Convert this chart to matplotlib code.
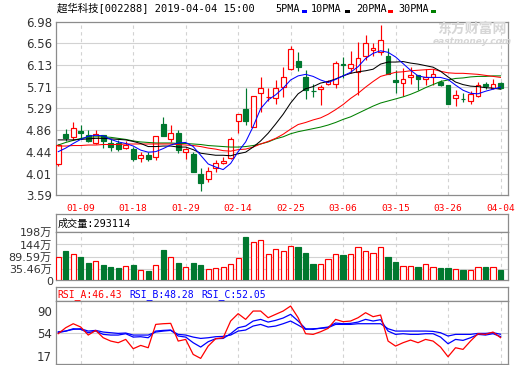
import matplotlib
matplotlib.use('Agg')
import matplotlib.pyplot as plt
from matplotlib.patches import Rectangle

W, H = 520, 365

# ---------------- data ----------------
dates = ['01-04', '01-07', '01-08', '01-09', '01-10', '01-11', '01-14', '01-15', '01-16', '01-17',
         '01-18', '01-21', '01-22', '01-23', '01-24', '01-25', '01-28', '01-29', '01-30', '01-31',
         '02-01', '02-11', '02-12', '02-13', '02-14', '02-15', '02-18', '02-19', '02-20', '02-21',
         '02-22', '02-25', '02-26', '02-27', '02-28', '03-01', '03-04', '03-05', '03-06', '03-07',
         '03-08', '03-11', '03-12', '03-13', '03-14', '03-15', '03-18', '03-19', '03-20', '03-21',
         '03-22', '03-25', '03-26', '03-27', '03-28', '03-29', '04-01', '04-02', '04-03', '04-04']
date_ticks = ['01-09', '01-18', '01-29', '02-14', '02-25', '03-06', '03-15', '03-26', '04-04']

open_ = [4.19, 4.79, 4.72, 4.84, 4.77, 4.60, 4.76, 4.61, 4.60, 4.52,
         4.49, 4.32, 4.37, 4.34, 4.99, 4.68, 4.80, 4.44, 4.39, 4.00,
         3.90, 4.13, 4.21, 4.31, 5.03, 5.27, 4.93, 5.58, 5.50, 5.48,
         5.71, 6.05, 6.21, 5.89, 5.63, 5.66, 5.77, 5.77, 6.15, 6.08,
         6.00, 6.30, 6.43, 6.39, 6.31, 5.84, 5.78, 5.89, 5.94, 5.85,
         5.90, 5.81, 5.74, 5.48, 5.47, 5.43, 5.52, 5.76, 5.68, 5.79]
high = [4.59, 4.88, 5.01, 4.97, 4.86, 4.86, 4.77, 4.68, 4.67, 4.64,
        4.54, 4.44, 4.43, 4.75, 5.11, 4.97, 4.86, 4.52, 4.43, 4.12,
        4.15, 4.28, 4.34, 4.72, 5.17, 5.68, 5.53, 5.89, 5.68, 5.84,
        6.10, 6.51, 6.38, 6.04, 5.77, 5.74, 5.84, 6.21, 6.29, 6.41,
        6.59, 6.72, 6.56, 6.91, 6.46, 6.04, 6.07, 6.10, 5.94, 6.05,
        6.05, 5.84, 5.75, 5.64, 5.59, 5.63, 5.81, 5.81, 5.86, 5.81]
low = [4.16, 4.64, 4.66, 4.68, 4.62, 4.59, 4.51, 4.45, 4.46, 4.49,
       4.25, 4.23, 4.26, 4.27, 4.74, 4.62, 4.41, 4.30, 4.04, 3.68,
       3.85, 4.05, 4.20, 4.30, 4.80, 4.96, 4.92, 5.22, 5.42, 5.38,
       5.51, 6.04, 6.02, 5.46, 5.51, 5.35, 5.75, 5.68, 5.87, 5.97,
       5.55, 6.23, 6.30, 6.33, 5.95, 5.59, 5.52, 5.77, 5.64, 5.74,
       5.74, 5.72, 5.38, 5.34, 5.41, 5.38, 5.50, 5.66, 5.66, 5.67]
close = [4.58, 4.70, 4.90, 4.80, 4.64, 4.78, 4.65, 4.53, 4.50, 4.57,
         4.30, 4.37, 4.30, 4.74, 4.75, 4.80, 4.47, 4.49, 4.05, 3.83,
         4.07, 4.21, 4.25, 4.69, 5.17, 5.03, 5.53, 5.69, 5.51, 5.68,
         5.89, 6.44, 6.09, 5.64, 5.62, 5.71, 5.82, 6.18, 6.13, 6.15,
         6.26, 6.56, 6.46, 6.62, 5.96, 5.80, 5.85, 5.94, 5.86, 5.90,
         5.96, 5.75, 5.38, 5.55, 5.46, 5.57, 5.74, 5.72, 5.77, 5.68]

ma5 = [4.44, 4.51, 4.60, 4.68, 4.74, 4.76, 4.75, 4.68, 4.63, 4.60,
       4.55, 4.47, 4.43, 4.44, 4.50, 4.57, 4.61, 4.62, 4.54, 4.37,
       4.20, 4.14, 4.09, 4.21, 4.44, 4.63, 4.93, 5.28, 5.45, 5.55,
       5.68, 5.84, 5.92, 5.95, 5.91, 5.84, 5.79, 5.85, 5.92, 5.99,
       6.10, 6.26, 6.36, 6.41, 6.38, 6.29, 6.16, 6.03, 5.92, 5.89,
       5.89, 5.89, 5.85, 5.74, 5.64, 5.58, 5.57, 5.62, 5.66, 5.70]
ma10 = [4.67, 4.67, 4.67, 4.68, 4.69, 4.70, 4.70, 4.69, 4.68, 4.67,
        4.64, 4.60, 4.54, 4.54, 4.55, 4.55, 4.53, 4.53, 4.48, 4.41,
        4.39, 4.37, 4.37, 4.36, 4.40, 4.43, 4.53, 4.65, 4.80, 4.98,
        5.17, 5.39, 5.57, 5.67, 5.71, 5.78, 5.81, 5.86, 5.92, 5.97,
        6.00, 6.02, 6.05, 6.15, 6.19, 6.19, 6.20, 6.17, 6.15, 6.12,
        6.09, 6.01, 5.90, 5.80, 5.75, 5.72, 5.71, 5.69, 5.68, 5.66]
ma20 = [4.55, 4.55, 4.56, 4.56, 4.57, 4.57, 4.58, 4.58, 4.58, 4.59,
        4.59, 4.59, 4.59, 4.59, 4.59, 4.59, 4.58, 4.57, 4.56, 4.54,
        4.51, 4.49, 4.46, 4.45, 4.48, 4.49, 4.53, 4.59, 4.64, 4.70,
        4.78, 4.88, 4.97, 5.01, 5.06, 5.10, 5.17, 5.26, 5.36, 5.48,
        5.58, 5.70, 5.81, 5.91, 5.95, 5.99, 6.00, 6.02, 6.03, 6.04,
        6.05, 6.01, 5.98, 5.97, 5.97, 5.96, 5.95, 5.93, 5.91, 5.89]
ma30 = [4.57, 4.62, 4.66, 4.70, 4.72, 4.73, 4.73, 4.72, 4.70, 4.68,
        4.65, 4.63, 4.62, 4.61, 4.61, 4.61, 4.60, 4.60, 4.59, 4.58,
        4.56, 4.55, 4.54, 4.53, 4.53, 4.54, 4.56, 4.59, 4.63, 4.69,
        4.73, 4.79, 4.83, 4.86, 4.89, 4.92, 4.96, 5.01, 5.07, 5.12,
        5.19, 5.26, 5.33, 5.39, 5.43, 5.47, 5.51, 5.56, 5.62, 5.69,
        5.75, 5.81, 5.84, 5.87, 5.88, 5.90, 5.91, 5.91, 5.92, 5.92]

volume = [86.7, 114, 104, 86.7, 63, 69, 53, 44, 39.6, 47,
          51.5, 29.5, 26.4, 51.5, 119, 86.7, 61.6, 42.7, 61.6, 52.8,
          35.2, 38.3, 42.7, 55.9, 82.3, 176, 157, 166, 101, 122,
          116, 136, 132, 107, 57.2, 57.2, 77.9, 99.9, 96.8, 99.9,
          131, 117, 106, 131, 88, 66, 47, 47, 44, 55.9,
          42.7, 39.6, 39.6, 33.9, 30.8, 29.5, 42.7, 44, 42.7, 29.31]

rsi_a = [53, 62.7, 69.2, 63.8, 50.7, 58.3, 46.3, 40.9, 38.2, 43.6,
         28.4, 33.8, 30.0, 68.1, 69.2, 69.8, 40.9, 43.6, 19.1, 12.6,
         32.7, 44.7, 46.3, 73.6, 85.6, 76.3, 89.9, 89.9, 79.0, 84.5,
         89.9, 98.1, 79.0, 52.9, 51.8, 56.1, 61.6, 76.3, 72.5, 73.6,
         79.0, 87.2, 80.7, 83.4, 40.9, 32.7, 38.2, 42.5, 38.2, 43.6,
         40.9, 31.1, 15.3, 30.0, 27.3, 40.9, 52.9, 51.8, 55.6, 46.43]
rsi_b = [54.5, 57.2, 61.0, 60.0, 54.5, 57.2, 51.8, 50.7, 50.7, 52.9,
         47.4, 48.0, 46.3, 57.2, 58.3, 58.9, 49.1, 47.4, 38.2, 31.1,
         39.8, 44.7, 45.2, 52.9, 62.7, 65.4, 73.6, 76.3, 71.9, 74.7,
         78.5, 84.5, 73.6, 61.0, 60.0, 62.1, 63.8, 70.3, 69.2, 69.8,
         71.9, 76.3, 73.6, 75.8, 57.2, 51.8, 52.9, 51.8, 51.8, 52.9,
         52.9, 47.4, 36.5, 43.6, 42.0, 46.3, 51.8, 50.7, 52.9, 48.28]
rsi_c = [56.1, 57.2, 60.0, 61.0, 57.2, 58.3, 55.6, 54.5, 53.4, 54.0,
         50.7, 50.7, 50.7, 55.6, 57.2, 58.3, 51.8, 50.7, 47.4, 45.2,
         46.3, 48.0, 48.5, 50.7, 57.2, 58.9, 65.4, 68.1, 63.8, 65.4,
         69.2, 73.6, 67.0, 60.0, 61.0, 61.6, 62.7, 68.1, 68.1, 68.1,
         69.2, 69.2, 69.2, 69.2, 61.0, 57.2, 57.2, 57.2, 57.2, 57.2,
         56.7, 54.5, 49.1, 51.8, 51.8, 51.8, 53.4, 53.4, 54.5, 52.05]

price_ticks = [3.59, 4.01, 4.44, 4.86, 5.29, 5.71, 6.13, 6.56, 6.98]
vol_ticks = [35.46, 89.59, 144, 198]
vol_tick_labels = ['35.46万', '89.59万', '144万', '198万']
rsi_ticks = [17, 54, 90]

title = '超华科技[002288] 2019-04-04 15:00'
ma_names = ['5PMA', '10PMA', '20PMA', '30PMA']
vol_header = '成交量:293114'
rsi_headers = ['RSI_A:46.43', 'RSI_B:48.28', 'RSI_C:52.05']

# ---------------- style ----------------
RED = '#FF0000'
GREEN = '#00782F'
BLUE = '#0000FF'
GRID = '#d2d2d2'
SPINE = '#8c8c8c'
LABEL = '#333333'
ma_colors = [BLUE, '#000000', RED, '#008000']
CJK = ['DejaVu Sans Mono', 'Noto Sans CJK SC']
CJK2 = ['DejaVu Sans', 'Noto Sans CJK SC']

fig = plt.figure(figsize=(W / 100, H / 100), dpi=100)
fig.patch.set_facecolor('white')


def axes_px(x0, y0, x1, y1):
    return fig.add_axes([x0 / W, 1 - y1 / H, (x1 - x0) / W, (y1 - y0) / H])


def ftext(x, y, s, **kw):
    fig.text(x / W, 1 - y / H, s, **kw)


L, R = 56, 508
ax = axes_px(L, 21.6, R, 195.2)
axvh = axes_px(L, 214, R, 232.3)
axv = axes_px(L, 232.3, R, 280)
axrh = axes_px(L, 287.3, R, 301)
axr = axes_px(L, 301, R, 364.3)

n = len(close)
xs = list(range(n))
tick_pos = [dates.index(d) for d in date_ticks]
XL = (-0.3, 60.0)

for a in (ax, axvh, axv, axrh, axr):
    a.set_xlim(*XL)
    for s in a.spines.values():
        s.set_color(SPINE)
        s.set_linewidth(0.9)
    a.tick_params(length=0, colors=LABEL, labelsize=8.5)

# ---------------- price panel ----------------
ax.set_ylim(3.59, 6.98)
ax.set_yticks(price_ticks)
ax.set_yticklabels(['%.2f' % v for v in price_ticks])
ax.tick_params(axis='y', pad=3)
for v in price_ticks[1:-1]:
    ax.axhline(v, color=GRID, lw=0.8, zorder=0)
for p in tick_pos:
    ax.axvline(p, color=GRID, lw=0.8, ls=(0, (3, 3)), zorder=0)
ax.set_xticks(tick_pos)
ax.set_xticklabels(date_ticks, color=RED, family='DejaVu Sans Mono', fontsize=6.8)
ax.tick_params(axis='x', pad=6)

cw = 0.64
for i in xs:
    o, h, l, c = open_[i], high[i], low[i], close[i]
    up = c >= o
    col = RED if up else GREEN
    ax.vlines(i, l, h, color=col, lw=0.85, zorder=2)
    ax.bar(i, max(abs(c - o), 0.008), bottom=min(o, c), width=cw,
           facecolor='white' if up else GREEN, edgecolor=col, lw=0.85, zorder=3)

for ma, colr in zip([ma30, ma20, ma10, ma5], ma_colors[::-1]):
    ax.plot(xs, ma, color=colr, lw=0.75, zorder=4)

# ---------------- volume panel ----------------
VMIN = -13.3
axv.set_ylim(VMIN, 198)
axv.set_yticks(vol_ticks)
axv.set_yticklabels(vol_tick_labels, family=CJK2, fontsize=8)
axv.tick_params(axis='y', pad=3)
axv.set_xticks([])
ftext(L - 3, 282, '0', ha='right', va='center', fontsize=8, color=LABEL)
for v in vol_ticks[:-1]:
    axv.axhline(v, color=GRID, lw=0.8, zorder=0)
for p in tick_pos:
    axv.axvline(p, color=GRID, lw=0.8, ls=(0, (3, 3)), zorder=0)
for i in xs:
    up = close[i] >= open_[i]
    col = RED if up else GREEN
    axv.bar(i, volume[i] - VMIN, bottom=VMIN, width=0.7,
            facecolor='white' if up else GREEN, edgecolor=col, lw=0.85, zorder=3)

axvh.set_xticks([])
axvh.set_yticks([])
axvh.text(0.003, 0.45, vol_header, transform=axvh.transAxes, ha='left', va='center',
          fontsize=7.3, family=CJK, color='#000000')

# ---------------- RSI panel ----------------
axr.set_ylim(2.95, 106.3)
axr.set_yticks(rsi_ticks)
axr.set_yticklabels([str(v) for v in rsi_ticks])
axr.tick_params(axis='y', pad=3)
axr.set_xticks([])
axr.axhline(54, color=GRID, lw=0.8, zorder=0)
for p in tick_pos:
    axr.axvline(p, color=GRID, lw=0.8, ls=(0, (3, 3)), zorder=0)
axr.plot(xs, rsi_c, color=BLUE, lw=0.9, zorder=3)
axr.plot(xs, rsi_b, color=BLUE, lw=0.9, zorder=3)
axr.plot(xs, rsi_a, color=RED, lw=0.9, zorder=4)

axrh.set_xticks([])
axrh.set_yticks([])
for s, x0, colr in zip(rsi_headers, [57, 129, 201], [RED, BLUE, BLUE]):
    ftext(x0, 294.5, s, ha='left', va='center', fontsize=7.0,
          family='DejaVu Sans Mono', color=colr)

# ---------------- header texts ----------------
ftext(57, 8.5, title, ha='left', va='center', fontsize=7.5, family=CJK, color='#000000')
leg_x = [275, 311, 355.7, 398.3]
sq_x = [302.3, 345, 387.7, 431]
for name, x0, sx, colr in zip(ma_names, leg_x, sq_x, ma_colors):
    ftext(x0, 9, name, ha='left', va='center', fontsize=7.3,
          family='DejaVu Sans Mono', color='#000000')
    fig.add_artist(Rectangle((sx / W, 1 - 12.5 / H), 5 / W, 3 / H,
                             transform=fig.transFigure, color=colr, lw=0))

# watermark
ftext(472, 29, '东方财富网', ha='center', va='center', fontsize=10, fontweight='bold',
      family=['Noto Sans CJK SC'], color='#d6d6d6', zorder=0)
ftext(472, 41.5, 'eastmoney.com', ha='center', va='center', fontsize=6.5,
      fontweight='bold', style='italic', family='DejaVu Sans', color='#d6d6d6', zorder=0)

fig.savefig('out.png', dpi=100, facecolor='white')
